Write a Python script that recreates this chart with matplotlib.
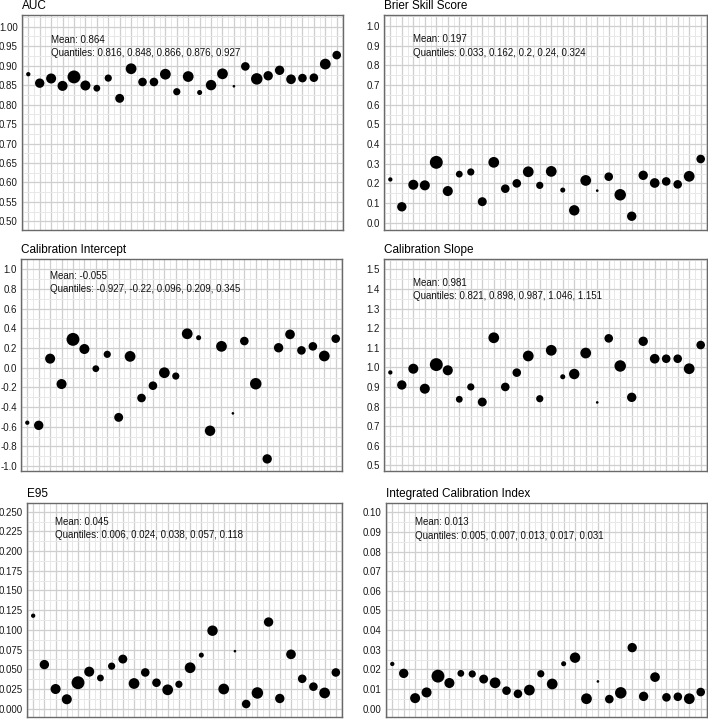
import matplotlib
matplotlib.use("Agg")
import matplotlib.pyplot as plt
import numpy as np
from matplotlib.ticker import MultipleLocator, FormatStrFormatter

plt.rcParams["font.family"] = ["Liberation Sans", "DejaVu Sans"]
plt.rcParams["axes.unicode_minus"] = False

# one value per validation cluster (28 clusters), same order in every panel
cluster = np.arange(1, 29)
# relative cluster weight (marker area)
cluster_weight = [16, 76, 87, 87, 144, 87, 40, 45, 69, 100, 64, 64, 100, 45,
                  100, 22, 94, 100, 6, 64, 114, 76, 76, 81, 64, 64, 100, 64]

auc = [0.878, 0.855, 0.867, 0.848, 0.871, 0.849, 0.842, 0.868, 0.816, 0.892,
       0.858, 0.858, 0.878, 0.833, 0.872, 0.831, 0.850, 0.879, 0.847, 0.898,
       0.866, 0.874, 0.888, 0.865, 0.868, 0.869, 0.904, 0.927]
bss = [0.220, 0.081, 0.193, 0.190, 0.307, 0.161, 0.247, 0.258, 0.107, 0.307,
       0.173, 0.200, 0.259, 0.190, 0.261, 0.166, 0.063, 0.215, 0.163, 0.234,
       0.142, 0.033, 0.241, 0.202, 0.210, 0.195, 0.236, 0.324]
cal_int = [-0.559, -0.586, 0.092, -0.166, 0.288, 0.190, -0.010, 0.136, -0.505, 0.115,
           -0.308, -0.183, -0.051, -0.085, 0.345, 0.305, -0.641, 0.217, -0.464, 0.271,
           -0.163, -0.927, 0.203, 0.339, 0.176, 0.217, 0.119, 0.295]
cal_slope = [0.974, 0.910, 0.993, 0.891, 1.014, 0.985, 0.837, 0.900, 0.823, 1.151,
             0.900, 0.973, 1.058, 0.840, 1.087, 0.952, 0.966, 1.073, 0.821, 1.148,
             1.007, 0.847, 1.133, 1.044, 1.044, 1.044, 0.993, 1.114]
e95 = [0.118, 0.056, 0.025, 0.012, 0.033, 0.047, 0.039, 0.054, 0.063, 0.032,
       0.046, 0.033, 0.024, 0.031, 0.052, 0.068, 0.099, 0.025, 0.073, 0.006,
       0.020, 0.110, 0.013, 0.069, 0.038, 0.028, 0.020, 0.046]
ici = [0.0228, 0.0180, 0.0054, 0.0083, 0.0166, 0.0131, 0.0180, 0.0177, 0.0151, 0.0132,
       0.0092, 0.0076, 0.0095, 0.0178, 0.0126, 0.0229, 0.0260, 0.0051, 0.0139, 0.0049,
       0.0081, 0.0311, 0.0063, 0.0161, 0.0058, 0.0061, 0.0051, 0.0085]

titles = ["AUC", "Brier Skill Score", "Calibration Intercept", "Calibration Slope",
          "E95", "Integrated Calibration Index"]
means = ["0.864", "0.197", "-0.055", "0.981", "0.045", "0.013"]
quantiles = ["0.816, 0.848, 0.866, 0.876, 0.927",
             "0.033, 0.162, 0.2, 0.24, 0.324",
             "-0.927, -0.22, 0.096, 0.209, 0.345",
             "0.821, 0.898, 0.987, 1.046, 1.151",
             "0.006, 0.024, 0.038, 0.057, 0.118",
             "0.005, 0.007, 0.013, 0.017, 0.031"]
series = [auc, bss, cal_int, cal_slope, e95, ici]

# (left, top, right, bottom) in pixels, y tick step, limits, label format, text y
W, H = 708, 719
panels = [
    ((22, 15, 343, 230), 0.05, (0.478, 1.03), "%.2f", 0.885),
    ((384, 15, 707, 230), 0.1, (-0.037, 1.056), "%.1f", 0.887),
    ((21, 259, 342, 471), 0.2, (-1.05, 1.105), "%.1f", 0.92),
    ((384, 259, 707, 471), 0.1, (0.471, 1.553), "%.1f", 0.888),
    ((27, 503, 342, 717), 0.025, (-0.0105, 0.261), "%.3f", 0.912),
    ((386, 503, 707, 717), 0.01, (-0.0042, 0.1047), "%.2f", 0.909),
]

fig = plt.figure(figsize=(W / 100, H / 100), dpi=100)
sizes = np.array(cluster_weight) * 0.6

for (box, step, ylim, fmt, ty), title, vals, mean, q in zip(
        panels, titles, series, means, quantiles):
    l, t, r, b = box
    ax = fig.add_axes([l / W, (H - b) / H, (r - l) / W, (b - t) / H])
    ax.scatter(cluster, vals, s=sizes, color="black", linewidths=0, zorder=3)
    ax.set_xlim(0.45, 28.55)
    ax.set_ylim(*ylim)
    ax.xaxis.set_major_locator(MultipleLocator(1))
    ax.xaxis.set_minor_locator(MultipleLocator(0.5))
    ax.yaxis.set_major_locator(MultipleLocator(step))
    ax.yaxis.set_minor_locator(MultipleLocator(step / 2))
    ax.yaxis.set_major_formatter(FormatStrFormatter(fmt))
    ax.grid(which="major", color="#cfcfcf", lw=0.9, zorder=0)
    ax.grid(which="minor", color="#e8e8e8", lw=0.7, zorder=0)
    ax.set_axisbelow(True)
    ax.tick_params(which="both", length=0, labelsize=7, pad=3, colors="#1a1a1a")
    ax.tick_params(axis="x", labelbottom=False)
    for sp in ax.spines.values():
        sp.set_color("#6a6a6a")
        sp.set_linewidth(1.0)
    ax.set_title(title, loc="left", fontsize=8.5, pad=4, color="#000000")
    ax.text(0.09, ty, f"Mean: {mean}", transform=ax.transAxes, fontsize=7,
            va="center", color="#111111")
    ax.text(0.09, ty - 0.062, f"Quantiles: {q}", transform=ax.transAxes,
            fontsize=7, va="center", color="#111111")

fig.savefig("out.png", dpi=100)
